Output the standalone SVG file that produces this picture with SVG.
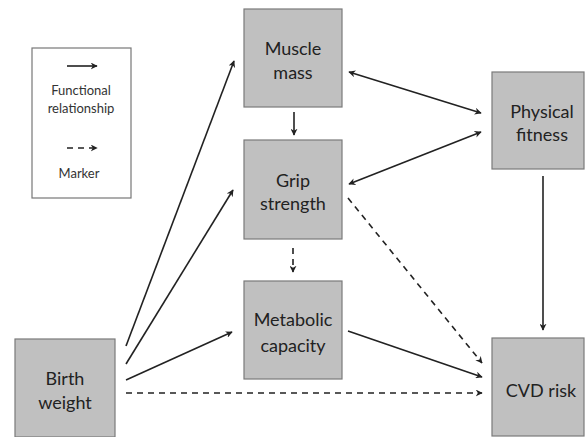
<svg xmlns="http://www.w3.org/2000/svg" width="585" height="437" viewBox="0 0 585 437">
<style>
.box{fill:#c0c0c0;stroke:#7a7a7a;stroke-width:1.2}
.t{font-family:Lato,"Open Sans",sans-serif;font-size:18px;fill:#222;text-anchor:middle}
.lt{font-family:Lato,"Open Sans",sans-serif;font-size:13px;fill:#333;text-anchor:middle}
.c{stroke:#222;stroke-width:1.6;fill:none}
.d{stroke-dasharray:6,5}
</style>
<defs>
<marker id="ah" viewBox="0 0 10 10" refX="9" refY="5" markerWidth="7" markerHeight="7" orient="auto-start-reverse" markerUnits="userSpaceOnUse">
<path d="M0,0 L10,5 L0,10 L3,5 z" fill="#222"/>
</marker>
</defs>
<rect width="585" height="437" fill="#fff"/>
<g id="legend">
<rect x="32" y="48" width="99" height="150" fill="#fff" stroke="#777" stroke-width="1.2"/>
<line x1="67" y1="66" x2="97" y2="66" class="c" marker-end="url(#ah)"/>
<text class="lt" x="81" y="95">Functional</text>
<text class="lt" x="81" y="113">relationship</text>
<line x1="67" y1="148" x2="97" y2="148" class="c d" marker-end="url(#ah)"/>
<text class="lt" x="79" y="178">Marker</text>
</g>
<g id="muscle">
<rect class="box" x="244" y="9" width="98" height="98"/>
<text class="t" x="293" y="55">Muscle</text>
<text class="t" x="293" y="79">mass</text>
</g>
<g id="grip">
<rect class="box" x="244" y="140" width="98" height="99"/>
<text class="t" x="293" y="187">Grip</text>
<text class="t" x="293" y="210">strength</text>
</g>
<g id="metabolic">
<rect class="box" x="244" y="281" width="98" height="98"/>
<text class="t" x="293" y="326">Metabolic</text>
<text class="t" x="293" y="352">capacity</text>
</g>
<g id="fitness">
<rect class="box" x="492" y="72" width="92" height="97"/>
<text class="t" x="542" y="118">Physical</text>
<text class="t" x="542" y="141">fitness</text>
</g>
<g id="cvd">
<rect class="box" x="492" y="338" width="92" height="98"/>
<text class="t" x="541" y="397">CVD risk</text>
</g>
<g id="birth">
<rect class="box" x="15" y="339" width="100" height="98"/>
<text class="t" x="65" y="385">Birth</text>
<text class="t" x="65" y="409">weight</text>
</g>
<g id="connectors">
<line x1="294" y1="112" x2="294" y2="135" class="c" marker-end="url(#ah)"/>
<line x1="293" y1="248" x2="293" y2="272" class="c d" marker-end="url(#ah)"/>
<line x1="349" y1="72" x2="481" y2="113" class="c" marker-start="url(#ah)" marker-end="url(#ah)"/>
<line x1="349" y1="184" x2="481" y2="132" class="c" marker-start="url(#ah)" marker-end="url(#ah)"/>
<line x1="543" y1="176" x2="543" y2="330" class="c" marker-end="url(#ah)"/>
<line x1="126" y1="346" x2="234" y2="61" class="c" marker-end="url(#ah)"/>
<line x1="126" y1="364" x2="233" y2="190" class="c" marker-end="url(#ah)"/>
<line x1="126" y1="380" x2="232" y2="332" class="c" marker-end="url(#ah)"/>
<line x1="126" y1="393" x2="482" y2="393" class="c d" marker-end="url(#ah)"/>
<line x1="348" y1="331" x2="482" y2="377" class="c" marker-end="url(#ah)"/>
<line x1="348" y1="198" x2="482" y2="363" class="c d" marker-end="url(#ah)"/>
</g>
</svg>
